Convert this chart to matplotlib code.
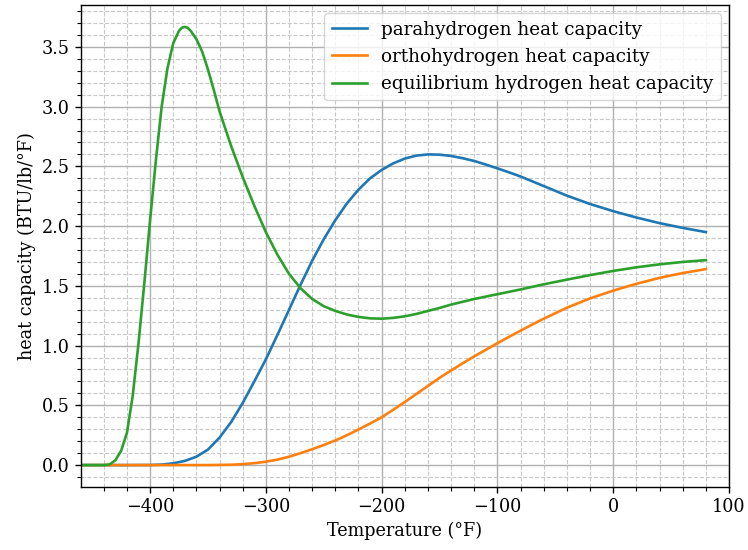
import matplotlib
matplotlib.use("Agg")
import matplotlib.pyplot as plt
from matplotlib.ticker import MultipleLocator

plt.rcParams['font.family'] = ['DejaVu Serif']
plt.rcParams['font.size'] = 12.7

# Temperature (°F) and heat capacity (BTU/lb/°F)
t_para = [-459.67, -420, -400, -390, -380, -370, -360, -350, -340, -330, -320, -310, -300,
          -290, -280, -270, -260, -250, -240, -230, -220, -210, -200, -190, -180, -170,
          -160, -150, -140, -130, -120, -110, -100, -90, -80, -60, -40, -20, 0, 20, 40, 60, 80]
cp_para = [0, 0, 0.001, 0.004, 0.015, 0.035, 0.07, 0.13, 0.23, 0.36, 0.52, 0.70, 0.885,
           1.09, 1.30, 1.51, 1.71, 1.89, 2.05, 2.19, 2.305, 2.40, 2.47, 2.525, 2.565, 2.59,
           2.60, 2.598, 2.587, 2.568, 2.545, 2.515, 2.483, 2.45, 2.415, 2.335, 2.255, 2.185, 2.125,
           2.072, 2.025, 1.985, 1.95]

t_ortho = [-459.67, -350, -330, -320, -310, -300, -290, -280, -270, -260, -250, -240, -230,
           -220, -210, -200, -190, -180, -170, -160, -150, -140, -130, -120, -110, -100, -90,
           -80, -70, -60, -40, -20, 0, 20, 40, 60, 80]
cp_ortho = [0, 0, 0.003, 0.008, 0.016, 0.028, 0.046, 0.07, 0.10, 0.133, 0.168, 0.206, 0.25,
            0.298, 0.348, 0.40, 0.463, 0.528, 0.595, 0.663, 0.73, 0.792, 0.852, 0.91, 0.965, 1.02,
            1.073, 1.125, 1.176, 1.225, 1.317, 1.395, 1.46, 1.517, 1.567, 1.607, 1.64]

t_eq = [-459.67, -440, -435, -430, -425, -420, -415, -410, -405, -400, -395, -390, -385,
        -380, -375, -372.5, -370, -367.5, -365, -360, -355, -350, -345, -340, -330, -320, -310,
        -300, -290, -280, -270, -260, -250, -240, -230, -220, -210, -200, -190, -180, -170,
        -160, -150, -140, -120, -100, -80, -60, -40, -20, 0, 20, 40, 60, 80]
cp_eq = [0, 0, 0.005, 0.04, 0.12, 0.27, 0.58, 1.02, 1.52, 2.05, 2.55, 3.00, 3.32,
         3.53, 3.635, 3.66, 3.667, 3.66, 3.635, 3.565, 3.46, 3.31, 3.14, 2.96, 2.67, 2.41, 2.17,
         1.95, 1.76, 1.60, 1.48, 1.39, 1.33, 1.29, 1.26, 1.24, 1.228, 1.225, 1.232, 1.245, 1.265,
         1.29, 1.315, 1.343, 1.39, 1.43, 1.47, 1.513, 1.552, 1.59, 1.625, 1.655, 1.68, 1.70, 1.715]

labels = ["parahydrogen heat capacity", "orthohydrogen heat capacity",
          "equilibrium hydrogen heat capacity"]

fig = plt.figure(figsize=(7.48, 5.5), dpi=100)
ax = fig.add_axes([81/748, 1 - 487/550, (729 - 81)/748, (487 - 5)/550])

lw = 1.9
ax.plot(t_para, cp_para, color='#1f77b4', lw=lw, label=labels[0])
ax.plot(t_ortho, cp_ortho, color='#ff7f0e', lw=lw, label=labels[1])
ax.plot(t_eq, cp_eq, color='#2ca02c', lw=lw, label=labels[2])

ax.set_xlim(-459.67, 100)
ax.xaxis.set_major_locator(MultipleLocator(100))
ax.xaxis.set_minor_locator(MultipleLocator(20))
ax.yaxis.set_major_locator(MultipleLocator(0.5))
ax.yaxis.set_minor_locator(MultipleLocator(0.1))

ax.grid(which='major', color='#b0b0b0', linestyle='-', linewidth=1.0)
ax.grid(which='minor', color='#c8c8c8', linestyle='--', linewidth=0.8)
ax.set_axisbelow(True)

ax.tick_params(which='major', length=4.5, width=1.0)
ax.tick_params(which='minor', length=2.6, width=0.8)
for s in ax.spines.values():
    s.set_linewidth(1.0)

ax.set_xlabel("Temperature (°F)")
ax.set_ylabel("heat capacity (BTU/lb/°F)")
ax.legend(loc='upper right', fontsize=13.2, handlelength=1.9, borderaxespad=0.45)

fig.savefig("out.png", dpi=100)
